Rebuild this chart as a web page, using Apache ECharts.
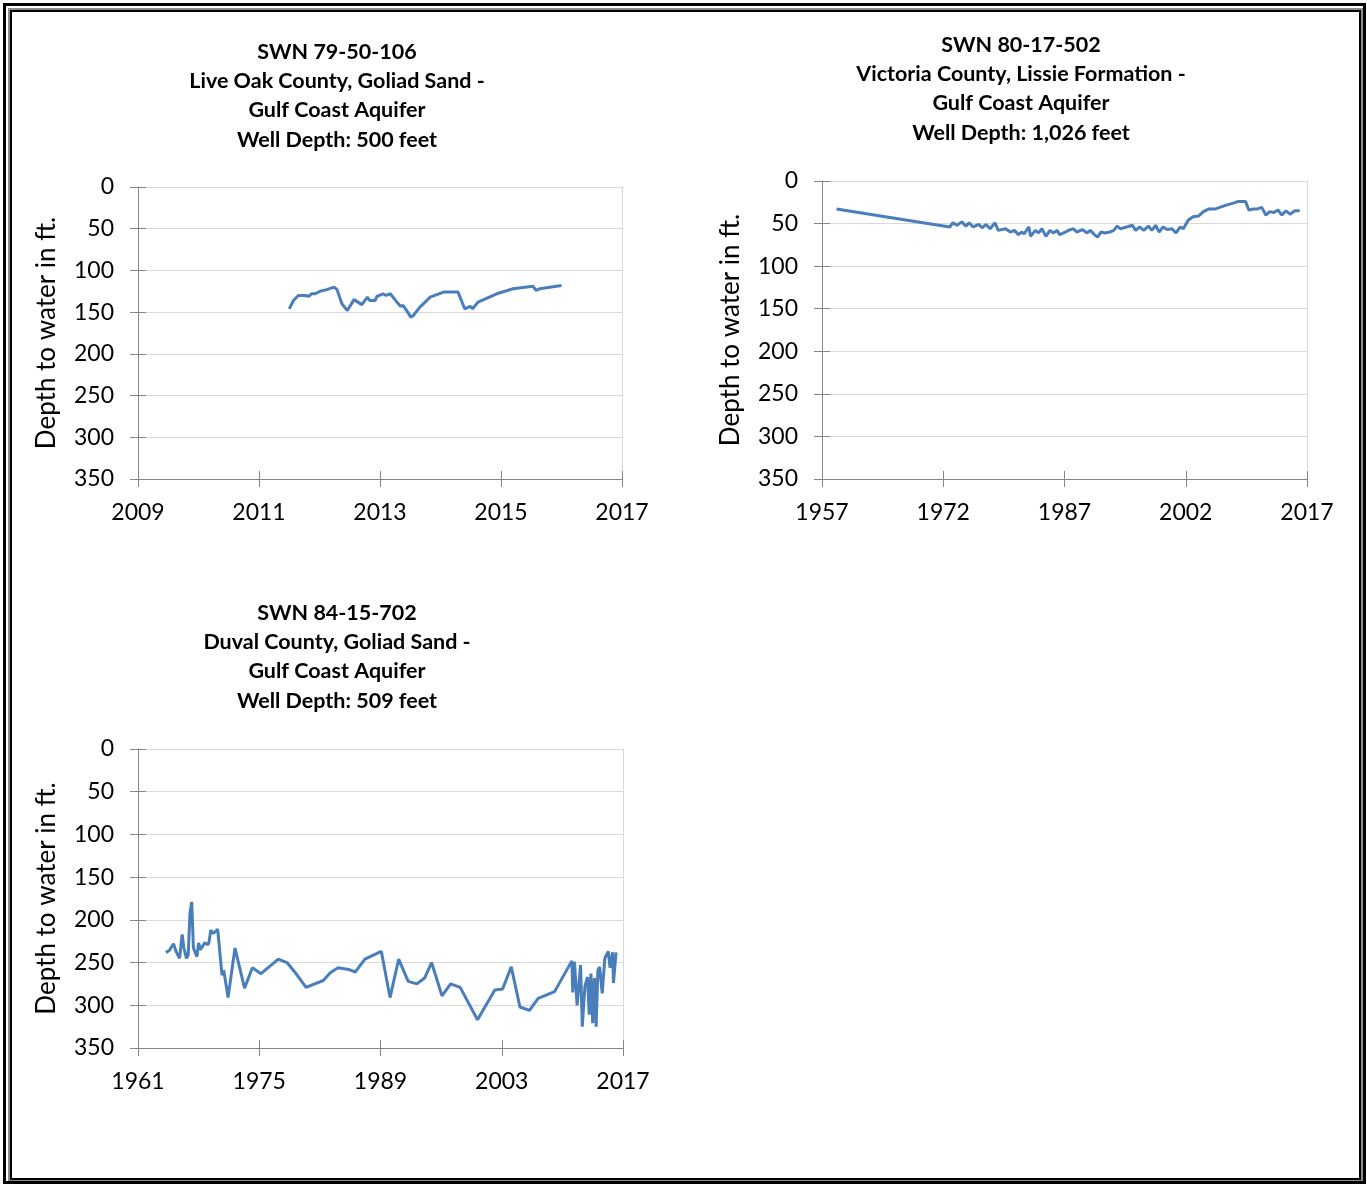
<!DOCTYPE html>
<html><head><meta charset="utf-8">
<script src="https://cdn.jsdelivr.net/npm/echarts@6/dist/echarts.min.js"></script>
<style>
html,body{margin:0;padding:0;background:#fff;}
#wrap{position:relative;width:1367px;height:1184px;overflow:hidden;background:#fff;}
#chart{position:absolute;left:0;top:0;width:1367px;height:1184px;}
.b{position:absolute;box-sizing:border-box;pointer-events:none;}
</style></head><body>
<div id="wrap">
<div id="chart"></div>
<div class="b" style="left:3px;top:3px;width:1363px;height:1181px;border:3px solid #000;"></div>
<div class="b" style="left:8px;top:8px;width:1355px;height:1173px;border:2px solid #8c8c8c;"></div>
<div class="b" style="left:10px;top:10px;width:1351px;height:1170px;border:2px solid #000;"></div>
</div>
<script>
// ---------- Data ----------
const title1 = ['SWN 79-50-106', 'Live Oak County, Goliad Sand -', 'Gulf Coast Aquifer', 'Well Depth: 500 feet'];
const title2 = ['SWN 80-17-502', 'Victoria County, Lissie Formation -', 'Gulf Coast Aquifer', 'Well Depth: 1,026 feet'];
const title3 = ['SWN 84-15-702', 'Duval County, Goliad Sand -', 'Gulf Coast Aquifer', 'Well Depth: 509 feet'];
const yAxisName = 'Depth to water in ft.';

const xTicks1 = [2009, 2011, 2013, 2015, 2017];
const xTicks2 = [1957, 1972, 1987, 2002, 2017];
const xTicks3 = [1961, 1975, 1989, 2003, 2017];
const yTicks = [0, 50, 100, 150, 200, 250, 300, 350];

const years1 = [2011.50, 2011.57, 2011.65, 2011.76, 2011.82, 2011.87, 2011.93, 2012.01, 2012.12, 2012.24,
  2012.29, 2012.37, 2012.46, 2012.57, 2012.70, 2012.79, 2012.83, 2012.92, 2012.95, 2013.05,
  2013.10, 2013.17, 2013.28, 2013.34, 2013.38, 2013.43, 2013.51, 2013.55, 2013.66, 2013.83,
  2014.05, 2014.29, 2014.40, 2014.49, 2014.53, 2014.62, 2014.93, 2015.20, 2015.53, 2015.58,
  2015.64, 2016.00];
const depth1 = [146, 136, 130, 130, 131, 128, 128, 125, 123, 120,
  123, 140, 148, 135, 141, 132, 136, 136, 131, 128,
  130, 128, 138, 143, 142, 147, 156, 154, 144, 132,
  126, 126, 146, 143, 146, 138, 128, 122, 119, 124,
  122, 118];

const years2 = [1958.8, 1972.8, 1973.2, 1973.7, 1974.3, 1974.8, 1975.2, 1975.7, 1976.4, 1976.8,
  1977.3, 1977.8, 1978.4, 1978.8, 1979.7, 1980.3, 1980.8, 1981.3, 1981.7, 1982.0,
  1982.6, 1982.8, 1983.4, 1983.8, 1984.2, 1984.7, 1985.2, 1985.6, 1986.1, 1986.4,
  1987.1, 1987.5, 1988.1, 1988.5, 1989.2, 1989.8, 1990.2, 1990.7, 1991.1, 1991.5,
  1992.0, 1992.6, 1993.1, 1993.5, 1993.9, 1994.7, 1995.4, 1995.8, 1996.3, 1996.8,
  1997.4, 1997.8, 1998.3, 1998.7, 1999.2, 1999.7, 2000.3, 2000.8, 2001.3, 2001.7,
  2002.3, 2002.9, 2003.6, 2004.2, 2004.8, 2005.6, 2006.2, 2007.1, 2007.9, 2008.5,
  2009.1, 2009.4, 2009.8, 2010.4, 2010.8, 2011.4, 2011.9, 2012.4, 2012.9, 2013.4,
  2013.9, 2014.4, 2014.9, 2015.5, 2016.1];
const depth2 = [33, 54, 49, 52, 48, 53, 49, 54, 51, 55,
  51, 56, 49, 58, 56, 60, 58, 63, 60, 62,
  54, 65, 58, 61, 56, 65, 58, 61, 58, 63,
  60, 58, 56, 60, 57, 61, 58, 63, 66, 60,
  61, 60, 58, 53, 56, 54, 52, 58, 54, 58,
  53, 58, 52, 60, 54, 57, 56, 61, 54, 56,
  46, 42, 41, 36, 33, 33, 31, 28, 26, 24,
  24, 24, 34, 33, 33, 31, 40, 36, 37, 34,
  40, 35, 39, 35, 35];

const years3 = [1964.2, 1964.6, 1965.1, 1965.4, 1965.8, 1966.1, 1966.3, 1966.6, 1966.8, 1967.0,
  1967.2, 1967.4, 1967.8, 1968.0, 1968.2, 1968.7, 1969.1, 1969.2, 1969.4, 1969.7,
  1970.2, 1970.7, 1970.9, 1971.4, 1972.2, 1973.3, 1974.2, 1975.2, 1977.2, 1978.2,
  1979.1, 1980.4, 1982.4, 1983.2, 1984.1, 1985.3, 1986.1, 1987.2, 1989.1, 1990.1,
  1991.1, 1992.2, 1993.2, 1994.1, 1994.9, 1996.1, 1997.1, 1998.2, 2000.2, 2002.2,
  2003.1, 2004.1, 2005.1, 2006.2, 2007.2, 2009.1, 2011.1, 2011.2, 2011.4, 2011.7,
  2012.1, 2012.3, 2012.6, 2012.9, 2013.1, 2013.3, 2013.5, 2013.7, 2013.9, 2014.1,
  2014.3, 2014.6, 2014.9, 2015.3, 2015.5, 2015.8, 2015.9, 2016.2];
const depth3 = [238, 236, 228, 237, 245, 217, 233, 245, 241, 192,
  179, 233, 243, 227, 235, 227, 229, 226, 212, 216,
  211, 265, 259, 291, 233, 280, 256, 263, 246, 250,
  261, 279, 271, 262, 256, 258, 261, 246, 237, 291,
  246, 272, 275, 268, 250, 289, 275, 279, 317, 282,
  281, 255, 302, 306, 292, 284, 248, 285, 249, 300,
  253, 325, 278, 267, 311, 263, 321, 268, 325, 259,
  255, 286, 245, 237, 256, 238, 274, 238];

// ---------- Build ----------
const FONT = 'Lato, "Open Sans", sans-serif';
const AXIS = '#868686', GRIDC = '#d9d9d9', LINE = '#4a7ebb';

const panels = [
  { grid: {left: 138, top: 187, width: 484, height: 292}, ticks: xTicks1, years: years1, depth: depth1, title: title1, tx: 337, ty: 37 },
  { grid: {left: 822, top: 181, width: 485, height: 298}, ticks: xTicks2, years: years2, depth: depth2, title: title2, tx: 1021, ty: 30 },
  { grid: {left: 138, top: 749, width: 485, height: 299}, ticks: xTicks3, years: years3, depth: depth3, title: title3, tx: 337, ty: 598 }
];

const grids = [], xAxes = [], yAxes = [], series = [], graphics = [];
const yMin = yTicks[0], yMax = yTicks[yTicks.length - 1], yStep = yTicks[1] - yTicks[0];

panels.forEach((p, i) => {
  grids.push(Object.assign({outerBoundsMode: 'none', containLabel: false}, p.grid));
  const base = p.ticks[0];
  const step = p.ticks[1] - p.ticks[0];
  const span = p.ticks[p.ticks.length - 1] - base;
  xAxes.push({
    gridIndex: i, type: 'value', position: 'bottom', min: 0, max: span, interval: step,
    axisLine: {show: true, onZero: false, lineStyle: {color: AXIS, width: 1}},
    axisTick: {show: true, length: 8, lineStyle: {color: AXIS, width: 1}},
    axisLabel: {formatter: v => String(v + base), fontSize: 23, color: '#000', margin: 22, fontFamily: FONT},
    splitLine: {show: false}
  });
  xAxes.push({
    gridIndex: i, type: 'value', position: 'bottom', min: 0, max: span, interval: step,
    axisLine: {show: false, onZero: false},
    axisTick: {show: true, inside: true, length: 8, lineStyle: {color: AXIS, width: 1}},
    axisLabel: {show: false}, splitLine: {show: false}
  });
  yAxes.push({
    gridIndex: i, type: 'value', position: 'left', inverse: true, min: yMin, max: yMax, interval: yStep,
    axisLine: {show: true, onZero: false, lineStyle: {color: AXIS, width: 1}},
    axisTick: {show: true, length: 8, lineStyle: {color: AXIS, width: 1}},
    axisLabel: {fontSize: 23, color: '#000', margin: 24, fontFamily: FONT},
    splitLine: {show: true, lineStyle: {color: GRIDC, width: 1}},
    name: yAxisName, nameLocation: 'middle', nameGap: 78,
    nameTextStyle: {fontSize: 26, color: '#000', fontFamily: FONT}
  });
  yAxes.push({
    gridIndex: i, type: 'value', position: 'left', inverse: true, min: yMin, max: yMax, interval: yStep,
    axisLine: {show: false, onZero: false},
    axisTick: {show: true, inside: true, length: 8, lineStyle: {color: AXIS, width: 1}},
    axisLabel: {show: false}, splitLine: {show: false}
  });
  yAxes.push({
    gridIndex: i, type: 'value', position: 'right', min: yMin, max: yMax,
    axisLine: {show: true, onZero: false, lineStyle: {color: GRIDC, width: 1}},
    axisTick: {show: false}, axisLabel: {show: false}, splitLine: {show: false}
  });
  series.push({
    type: 'line', xAxisIndex: i * 2, yAxisIndex: i * 3,
    data: p.years.map((y, k) => [y - base, p.depth[k]]),
    showSymbol: false, symbol: 'none',
    lineStyle: {color: LINE, width: 3}, itemStyle: {color: LINE},
    animation: false
  });
  graphics.push({
    type: 'text', x: p.tx, y: p.ty, silent: true,
    style: {text: p.title.join('\n'), align: 'center', verticalAlign: 'top',
      fontSize: 21.5, fontWeight: 'bold', fontFamily: FONT, lineHeight: 29.4, fill: '#000'}
  });
});

const chart = echarts.init(document.getElementById('chart'), null, {renderer: 'canvas'});
chart.setOption({
  backgroundColor: '#fff',
  animation: false,
  grid: grids, xAxis: xAxes, yAxis: yAxes, series: series,
  graphic: graphics
});
</script>
</body></html>
